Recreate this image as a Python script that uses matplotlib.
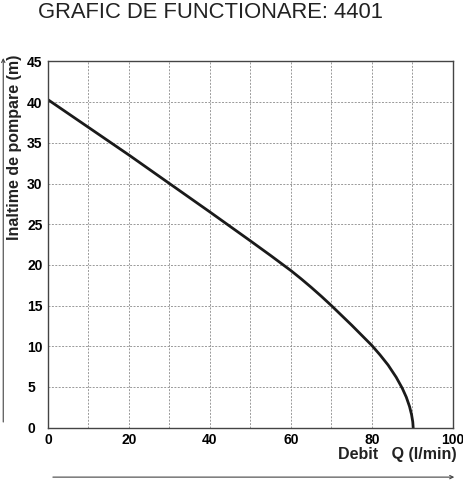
import matplotlib.pyplot as plt
from matplotlib.patches import FancyArrowPatch

plt.rcParams['font.family'] = ['Liberation Sans', 'DejaVu Sans']

# curve
debit = [0, 10, 20, 30, 40, 50, 55, 60, 62.5, 65, 67.5, 70, 72.5, 75, 77.5, 80,
         82, 84, 86, 87.5, 88.5, 89.3, 89.8, 90.1, 90.2]
inaltime = [40.3, 36.9, 33.5, 30.0, 26.5, 22.95, 21.15, 19.3, 18.3, 17.25, 16.15, 15.0,
            13.8, 12.6, 11.35, 10.1, 8.95, 7.7, 6.2, 4.85, 3.75, 2.6, 1.6, 0.7, 0]

x_ticks = [0, 20, 40, 60, 80, 100]
y_ticks = [0, 5, 10, 15, 20, 25, 30, 35, 40, 45]

fig = plt.figure(figsize=(4.64, 4.8), dpi=100)
ax = fig.add_axes([0.1034, 0.109, 0.8726, 0.763])

ax.plot(debit, inaltime, color='#1a1a1a', linewidth=2)

ax.set_xlim(0, 100)
ax.set_ylim(0, 45)
ax.set_xticks(range(0, 101, 10))
ax.set_xticklabels([str(v) if v in x_ticks else '' for v in range(0, 101, 10)])
ax.set_yticks(y_ticks)
ax.set_yticklabels([str(v) for v in y_ticks])
ax.tick_params(length=0, labelsize=10)
ax.tick_params(axis='x', pad=3.5)
ax.tick_params(axis='y', pad=15)
for lab in ax.get_xticklabels() + ax.get_yticklabels():
    lab.set_fontweight('bold')
for lab in ax.get_yticklabels():
    lab.set_horizontalalignment('left')
ax.grid(True, color='#999999', linestyle=(0, (2, 1.5)), linewidth=0.7)
for s in ax.spines.values():
    s.set_color('#444444')
    s.set_linewidth(1)

fig.text(0.453, 0.975, 'GRAFIC DE FUNCTIONARE: 4401', ha='center', va='center',
         fontsize=15.8, color='#222222')
fig.text(0.032, 0.694, 'Inaltime de pompare (m)', rotation=90, ha='center', va='center',
         fontsize=11.5, fontweight='bold', color='#222222')
fig.text(0.985, 0.054, 'Debit   Q (l/min)', ha='right', va='center',
         fontsize=11.5, fontweight='bold', color='#222222')

# axis arrows outside the plot
fig.add_artist(FancyArrowPatch(
    (0.007, 0.115), (0.007, 0.885), transform=fig.transFigure,
    arrowstyle='->', mutation_scale=6, color='#444444', linewidth=0.8))
fig.add_artist(FancyArrowPatch(
    (0.108, 0.006), (0.985, 0.006), transform=fig.transFigure,
    arrowstyle='->', mutation_scale=6, color='#444444', linewidth=0.8))

fig.savefig('out.png', dpi=100)
